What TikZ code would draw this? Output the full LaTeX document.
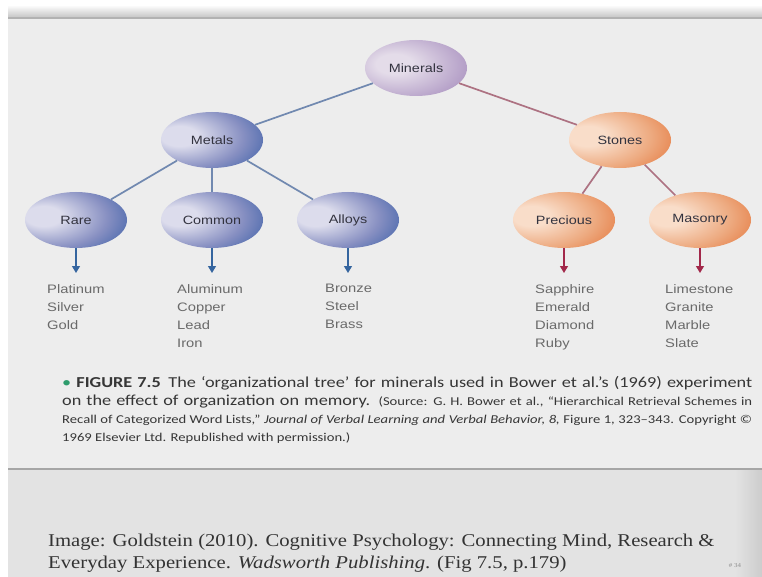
\documentclass[tikz,border=0pt]{standalone}
\usepackage{fontspec}
\setmainfont{Liberation Sans}
\newfontfamily\treefont[FakeStretch=1.2]{Liberation Sans}
\newfontfamily\capfont[FakeStretch=1.2]{Carlito}
\newfontfamily\capsmall[FakeStretch=1.22]{Carlito}
\newfontfamily\reffont[FakeStretch=1.15]{Liberation Serif}
\usetikzlibrary{shapes.geometric,arrows.meta,positioning}
\definecolor{slidebg}{HTML}{EDEDED}
\definecolor{footbg}{HTML}{E3E3E3}
\definecolor{metallight}{HTML}{DCDCEC}
\definecolor{metalmid}{HTML}{8890C2}
\definecolor{metaldark}{HTML}{2752A0}
\definecolor{metaldeep}{HTML}{1A4692}
\definecolor{stonelight}{HTML}{F9DDC9}
\definecolor{stonemid}{HTML}{EDAA80}
\definecolor{stonedark}{HTML}{E26A2C}
\definecolor{stonedeep}{HTML}{DC5C1C}
\definecolor{minlight}{HTML}{E4DCE9}
\definecolor{minmid}{HTML}{B8A4CA}
\definecolor{mindark}{HTML}{9074AB}
\definecolor{mindeep}{HTML}{8266A0}
\definecolor{metalline}{HTML}{7189B0}
\definecolor{stoneline}{HTML}{AD7282}
\definecolor{metalarrow}{HTML}{35659F}
\definecolor{stonearrow}{HTML}{A2284A}
\definecolor{treetext}{HTML}{33333F}
\definecolor{listgray}{HTML}{6A6A6A}
\definecolor{captext}{HTML}{363636}
\definecolor{capgreen}{HTML}{2E9C6C}
\pgfdeclareradialshading{metalball}{\pgfpoint{-18bp}{4bp}}{color(0bp)=(metallight); color(9bp)=(metallight); color(27bp)=(metalmid); color(46bp)=(metaldark); color(80bp)=(metaldeep)}
\pgfdeclareradialshading{stoneball}{\pgfpoint{-18bp}{4bp}}{color(0bp)=(stonelight); color(9bp)=(stonelight); color(27bp)=(stonemid); color(46bp)=(stonedark); color(80bp)=(stonedeep)}
\pgfdeclareradialshading{mineralball}{\pgfpoint{-12bp}{4bp}}{color(0bp)=(minlight); color(9bp)=(minlight); color(30bp)=(minmid); color(50bp)=(mindark); color(80bp)=(mindeep)}
\begin{document}
\begin{tikzpicture}
        [x=1pt,y=1pt,
        every node/.style={inner sep=0pt},
        tree node/.style={ellipse,shade,minimum width=102pt,minimum height=56pt,
          font=\treefont\fontsize{12}{14}\selectfont,text=treetext},
        metal/.style={tree node,shading=metalball},
        stone/.style={tree node,shading=stoneball},
        mineral/.style={tree node,shading=mineralball},
        item list/.style={anchor=north west,align=left,text=listgray,
          font=\treefont\fontsize{12.3}{18}\selectfont},
        metal arrow/.style={draw=metalarrow,line width=1.2pt,
          -{Triangle[width=8pt,length=7pt]},shorten >=11pt},
        stone arrow/.style={metal arrow,draw=stonearrow},
        metal branch/.style={edge from parent/.append style={draw=metalline}},
        stone branch/.style={edge from parent/.append style={draw=stoneline}},
        level distance=72pt,
        edge from parent/.style={draw,line width=1.7pt},
        level 1/.style={sibling distance=408pt,nodes={minimum width=96pt,minimum height=54pt}},
        level 2/.style={sibling distance=136pt,level distance=80pt,
          nodes={minimum width=103pt,minimum height=57pt}}]
        \useasboundingbox (0,0) rectangle (762,-577);
        \fill[white] (0,0) rectangle (762,-577);
        \shade[top color=white,bottom color=black!22] (8,-5) rectangle (762,-17);
        \fill[black!30] (8,-17) rectangle (762,-19.5);
        \fill[slidebg] (8,-19.5) rectangle (762,-468);
        \fill[black!35] (8,-468) rectangle (762,-470);
        \fill[footbg] (8,-470) rectangle (762,-577);
        \shade[left color=footbg,right color=black!20] (735,-470) rectangle (762,-577);
        \node[mineral] (minerals) at (416,-68) {Minerals}
          child[metal branch] {node[metal] (metals) {Metals}
            child {node[metal] (rare) {Rare}}
            child {node[metal] (common) {Common}}
            child {node[metal] (alloys) {Alloys}}
          }
          child[stone branch] {node[stone] (stones) {Stones}
            child {node[stone,xshift=12pt] (precious) {Precious}}
            child {node[stone,xshift=12pt] (masonry) {Masonry}}
          };
        \node[item list] (rarelist) at (47,-284) {Platinum\\Silver\\Gold};
        \node[item list] (commonlist) at (177,-284) {Aluminum\\Copper\\Lead\\Iron};
        \node[item list] (alloylist) at (325,-284) {Bronze\\Steel\\Brass};
        \node[item list] (preciouslist) at (535,-284) {Sapphire\\Emerald\\Diamond\\Ruby};
        \node[item list] (masonrylist) at (665,-284) {Limestone\\Granite\\Marble\\Slate};
        \draw[metal arrow] (rare) -- (rare |- rarelist.north);
        \draw[metal arrow] (common) -- (common |- commonlist.north);
        \draw[metal arrow] (alloys) -- (alloys |- alloylist.north);
        \draw[stone arrow] (precious) -- (precious |- preciouslist.north);
        \draw[stone arrow] (masonry) -- (masonry |- masonrylist.north);
        \node[anchor=base west,align=left,text=captext,
          font=\capfont\fontsize{15.2}{18}\selectfont] (caption) at (62,-441)
          {\makebox[690pt][s]{{\color{capgreen}\textbullet}\ \textbf{FIGURE 7.5}\enskip The ‘organizational tree’ for minerals used in Bower et al.’s (1969) experiment}\\
          \makebox[690pt][s]{on the effect of organization on memory. {\capsmall\fontsize{12}{14}\selectfont(Source: G. H. Bower et al., “Hierarchical Retrieval Schemes in}}\\
          \makebox[690pt][s]{\capsmall\fontsize{12}{14}\selectfont Recall of Categorized Word Lists,” \textit{Journal of Verbal Learning and Verbal Behavior, 8,} Figure 1, 323–343. Copyright ©}\\
          {\capsmall\fontsize{12}{14}\selectfont 1969 Elsevier Ltd. Republished with permission.)}};
        \node[anchor=base west,align=left,text=black!80,
          font=\reffont\fontsize{18}{22}\selectfont] (credit) at (48,-568)
          {Image: Goldstein (2010). Cognitive Psychology: Connecting Mind, Research \&\\
          Everyday Experience. \textit{Wadsworth Publishing}. (Fig 7.5, p.179)};
        \node[font=\reffont\fontsize{6}{7}\selectfont,text=black!45] (slideno) at (735,-566) {\# 34};
\end{tikzpicture}
\end{document}
